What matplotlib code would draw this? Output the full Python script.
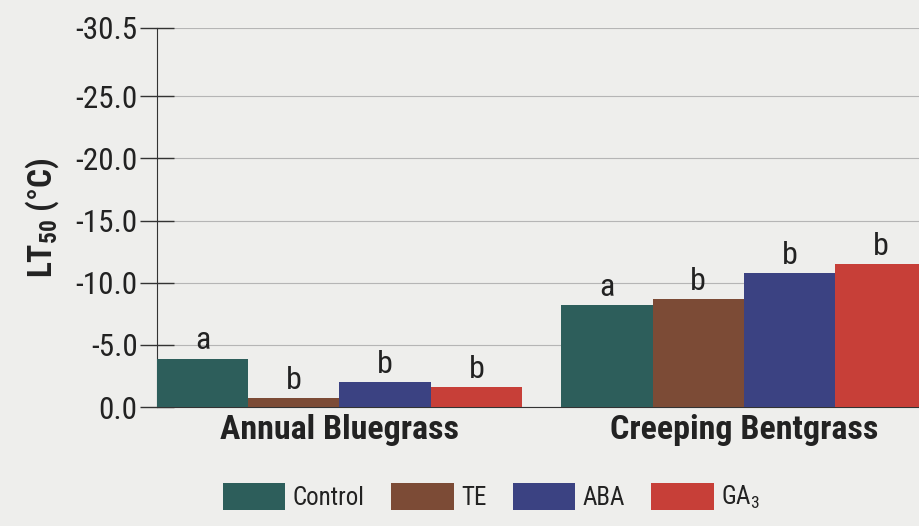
import matplotlib
matplotlib.use("Agg")
import matplotlib.pyplot as plt
from matplotlib import font_manager

categories = ["Annual Bluegrass", "Creeping Bentgrass"]
treatments = ["Control", "TE", "ABA", r"GA$_3$"]
values = {
    "Control": [-3.9, -8.2],
    "TE": [-0.7, -8.7],
    "ABA": [-2.0, -10.8],
    "GA3": [-1.6, -11.5],
}
letters = {
    "Control": ["a", "a"],
    "TE": ["b", "b"],
    "ABA": ["b", "b"],
    "GA3": ["b", "b"],
}
yticks = [0.0, -5.0, -10.0, -15.0, -20.0, -25.0, -30.5]
colors = ["#2d5e5b", "#7c4b36", "#3b4282", "#c73f38"]
bg = "#eeeeec"

# choose a condensed family that has static regular and bold files
cands = ["Roboto Condensed", "Liberation Sans Narrow", "Archivo Narrow", "PT Sans Narrow",
         "Barlow Semi Condensed", "Barlow Condensed", "Saira SemiCondensed",
         "Sofia Sans Semi Condensed", "Sofia Sans Condensed"]
fam = "DejaVu Sans"
for c in cands:
    fs = [f for f in font_manager.fontManager.ttflist if f.name == c and "[" not in f.fname
          and f.style == "normal"]
    ws = set(f.weight for f in fs)
    if 400 in ws and 700 in ws:
        fam = c
        break
plt.rcParams["font.family"] = [fam, "DejaVu Sans"]
plt.rcParams["mathtext.fontset"] = "custom"
plt.rcParams["mathtext.rm"] = fam
plt.rcParams["mathtext.bf"] = fam + ":bold"
plt.rcParams["mathtext.default"] = "rm"

fig = plt.figure(figsize=(9.19, 5.26), dpi=100, facecolor=bg)
ax = fig.add_axes([0.1708, 0.2262, 0.8292, 0.7206])
ax.set_facecolor(bg)

w = 1.0
gap = 0.43
keys = ["Control", "TE", "ABA", "GA3"]
group_starts = [0.0, 4 * w + gap]
for i, k in enumerate(keys):
    xs = [g + i * w + w / 2 for g in group_starts]
    ax.bar(xs, values[k], width=w, color=colors[i], label=treatments[i],
           zorder=3, linewidth=0)
    for x, v, t in zip(xs, values[k], letters[k]):
        ax.text(x, v - 0.25, t, ha="center", va="bottom", fontsize=23,
                color="#222222", zorder=4)

ax.set_xlim(0, 8.35)
ax.set_ylim(0, -30.5)
ax.set_yticks(yticks)
ax.set_yticklabels([f"{t:.1f}" for t in yticks], fontsize=22.5, color="#222222")
ax.yaxis.grid(True, color="#b5b5b5", linewidth=0.8, zorder=0)
ax.set_axisbelow(True)
ax.tick_params(axis="y", direction="inout", length=24, width=1, color="#333333", pad=2)
centers = [g + 2 * w for g in group_starts]
ax.set_xticks(centers)
ax.set_xticklabels(categories, fontsize=24.5, fontweight="bold", color="#222222")
ax.tick_params(axis="x", length=0, pad=5)
for s in ["top", "right"]:
    ax.spines[s].set_visible(False)
ax.spines["left"].set_color("#333333")
ax.spines["bottom"].set_color("#333333")

ax.set_ylabel(r"LT$_{\mathbf{50}}$ (°C)", fontsize=24, fontweight="bold", color="#222222",
              labelpad=10)

leg = fig.legend(loc="center", bbox_to_anchor=(0.535, 0.055), ncol=4, frameon=False,
                 fontsize=18, handlelength=2.5, handleheight=1.3, handletextpad=0.3,
                 columnspacing=1.05)
for t in leg.get_texts():
    t.set_color("#222222")

fig.savefig("out.png", dpi=100, facecolor=bg)
